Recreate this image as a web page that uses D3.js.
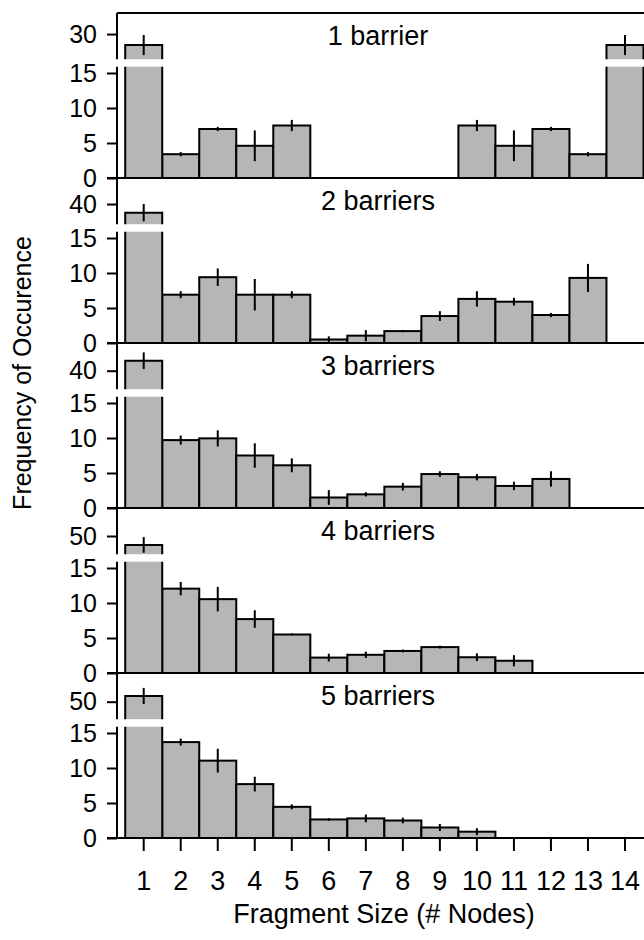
<!DOCTYPE html>
<html>
<head>
<meta charset="utf-8">
<script src="https://cdn.jsdelivr.net/npm/d3@7"></script>
<style>
  html, body { margin: 0; padding: 0; background: #fff; }
  svg { display: block; }
  text { font-family: "Liberation Sans", Arial, Helvetica, sans-serif; fill: #000; }
</style>
</head>
<body>
<svg id="chart" width="644" height="940"></svg>
<script>
// ---------------- data ----------------
const categories = [1, 2, 3, 4, 5, 6, 7, 8, 9, 10, 11, 12, 13, 14];
const panelLabels = ["1 barrier", "2 barriers", "3 barriers", "4 barriers", "5 barriers"];

const values1 = [26.5, 3.4, 7.0, 4.6, 7.5, 0, 0, 0, 0, 7.5, 4.6, 7.0, 3.4, 26.5];
const errors1 = [3.2, 0.3, 0.3, 2.2, 0.8, 0, 0, 0, 0, 0.8, 2.2, 0.3, 0.3, 3.2];

const values2 = [35.7, 6.9, 9.4, 6.9, 6.9, 0.5, 1.05, 1.7, 3.85, 6.3, 5.9, 4.0, 9.3, 0];
const errors2 = [4.3, 0.5, 1.25, 2.25, 0.5, 0.45, 0.8, 0.15, 0.7, 1.1, 0.55, 0.3, 2.0, 0];

const values3 = [45.4, 9.7, 9.95, 7.5, 6.1, 1.5, 1.95, 3.05, 4.85, 4.4, 3.15, 4.15, 0, 0];
const errors3 = [4.5, 0.65, 1.15, 1.75, 1.0, 1.05, 0.3, 0.55, 0.4, 0.45, 0.6, 1.1, 0, 0];

const values4 = [45.1, 12.05, 10.55, 7.7, 5.5, 2.2, 2.6, 3.15, 3.7, 2.25, 1.75, 0, 0, 0];
const errors4 = [4.3, 0.95, 1.75, 1.25, 0.15, 0.55, 0.45, 0.2, 0.2, 0.55, 0.8, 0, 0, 0];

const values5 = [53.3, 13.7, 11.05, 7.7, 4.45, 2.65, 2.8, 2.5, 1.5, 0.9, 0, 0, 0, 0];
const errors5 = [4.6, 0.5, 1.7, 1.05, 0.35, 0.2, 0.55, 0.4, 0.5, 0.5, 0, 0, 0, 0];

const lowerTicks = [0, 5, 10, 15];
const lowerMax = 15.9;
const upperDomains = [[22, 36.7], [30, 52.9], [30, 55], [40, 65.4], [40, 66.4]];
const upperTicks = [30, 40, 40, 50, 50];
const xTitle = "Fragment Size (# Nodes)";
const yTitle = "Frequency of Occurence";

// ---------------- layout ----------------
const panelValues = [values1, values2, values3, values4, values5];
const panelErrors = [errors1, errors2, errors3, errors4, errors5];

const axisX = 117;
const firstTop = 13;
const panelH = 165;
const lowerH = 111.3;   // height of the 0..lowerMax segment
const gapH = 7.5;       // white break between segments
const rightEdge = 650;
const barFill = "#b6b6b6";
const lw = 2;

const svg = d3.select("#chart");

const x = d3.scaleBand().domain(categories).range([125.2, 643.5]).padding(0);

panelValues.forEach((vals, p) => {
  const errs = panelErrors[p];
  const top = firstTop + p * panelH;
  const bottom = top + panelH;
  const yLow = d3.scaleLinear().domain([0, lowerMax]).range([bottom, bottom - lowerH]);
  const upBottom = bottom - lowerH - gapH;
  const yUp = d3.scaleLinear().domain(upperDomains[p]).range([upBottom, top]);
  const g = svg.append("g");

  const data = categories.map((c, i) => ({ c, v: vals[i], e: errs[i] }));
  const broken = d => d.v > lowerMax;

  // bar fills
  data.filter(d => d.v > 0 && !broken(d)).forEach(d => {
    g.append("rect")
      .attr("x", x(d.c)).attr("width", x.bandwidth())
      .attr("y", yLow(d.v)).attr("height", bottom - yLow(d.v))
      .attr("fill", barFill).attr("stroke", "#000").attr("stroke-width", lw);
  });
  data.filter(broken).forEach(d => {
    const x0 = x(d.c), x1 = x(d.c) + x.bandwidth();
    // lower piece
    g.append("rect")
      .attr("x", x0).attr("width", x.bandwidth())
      .attr("y", yLow(lowerMax)).attr("height", bottom - yLow(lowerMax))
      .attr("fill", barFill);
    g.append("path")
      .attr("d", `M${x0},${bottom}V${yLow(lowerMax)}M${x1},${bottom}V${yLow(lowerMax)}`)
      .attr("stroke", "#000").attr("stroke-width", lw).attr("fill", "none");
    // upper piece
    g.append("rect")
      .attr("x", x0).attr("width", x.bandwidth())
      .attr("y", yUp(d.v)).attr("height", upBottom - yUp(d.v))
      .attr("fill", barFill);
    g.append("path")
      .attr("d", `M${x0},${upBottom}V${yUp(d.v)}H${x1}V${upBottom}`)
      .attr("stroke", "#000").attr("stroke-width", lw).attr("fill", "none");
  });

  // error bars
  data.filter(d => d.v > 0 && d.e > 0).forEach(d => {
    const s = broken(d) ? yUp : yLow;
    const cx = x(d.c) + x.bandwidth() / 2;
    g.append("line")
      .attr("x1", cx).attr("x2", cx)
      .attr("y1", s(d.v - d.e)).attr("y2", s(d.v + d.e))
      .attr("stroke", "#000").attr("stroke-width", lw);
  });

  // zero line (panel baseline)
  g.append("line")
    .attr("x1", axisX - 10).attr("x2", rightEdge)
    .attr("y1", bottom).attr("y2", bottom)
    .attr("stroke", "#000").attr("stroke-width", lw);
  if (p === 0) {
    g.append("line")
      .attr("x1", axisX).attr("x2", rightEdge)
      .attr("y1", top).attr("y2", top)
      .attr("stroke", "#000").attr("stroke-width", lw);
  }

  // lower y axis segment
  const axLow = d3.axisLeft(yLow).tickValues(lowerTicks).tickSize(10).tickPadding(10).tickFormat(d3.format("d"));
  const gl = g.append("g").attr("transform", `translate(${axisX},0)`).call(axLow);
  gl.select(".domain").attr("d", `M0,${bottom}V${yLow(lowerMax)}`).attr("stroke-width", lw);
  gl.selectAll(".tick line").attr("stroke-width", lw);
  gl.selectAll(".tick text").attr("font-size", 25).attr("font-family", null);

  // upper y axis segment
  const axUp = d3.axisLeft(yUp).tickValues([upperTicks[p]]).tickSize(10).tickPadding(10).tickFormat(d3.format("d"));
  const gu = g.append("g").attr("transform", `translate(${axisX},0)`).call(axUp);
  gu.select(".domain").attr("d", `M0,${upBottom}V${top}`).attr("stroke-width", lw);
  gu.selectAll(".tick line").attr("stroke-width", lw);
  gu.selectAll(".tick text").attr("font-size", 25).attr("font-family", null);

  // panel label
  g.append("text")
    .attr("x", 378).attr("y", top + 32)
    .attr("text-anchor", "middle").attr("font-size", 27)
    .text(panelLabels[p]);

  // x axis on last panel
  if (p === panelValues.length - 1) {
    const ax = d3.axisBottom(x).tickSize(13).tickPadding(20);
    const gx = g.append("g").attr("transform", `translate(0,${bottom})`).call(ax);
    gx.select(".domain").remove();
    gx.selectAll(".tick line").attr("stroke-width", lw);
    gx.selectAll(".tick text").attr("font-size", 27).attr("font-family", null);
  }
});

// axis titles
svg.append("text")
  .attr("x", 384).attr("y", 923)
  .attr("text-anchor", "middle").attr("font-size", 27)
  .text(xTitle);

svg.append("text")
  .attr("transform", "translate(31,373) rotate(-90)")
  .attr("text-anchor", "middle").attr("font-size", 25)
  .text(yTitle);
</script>
</body>
</html>
